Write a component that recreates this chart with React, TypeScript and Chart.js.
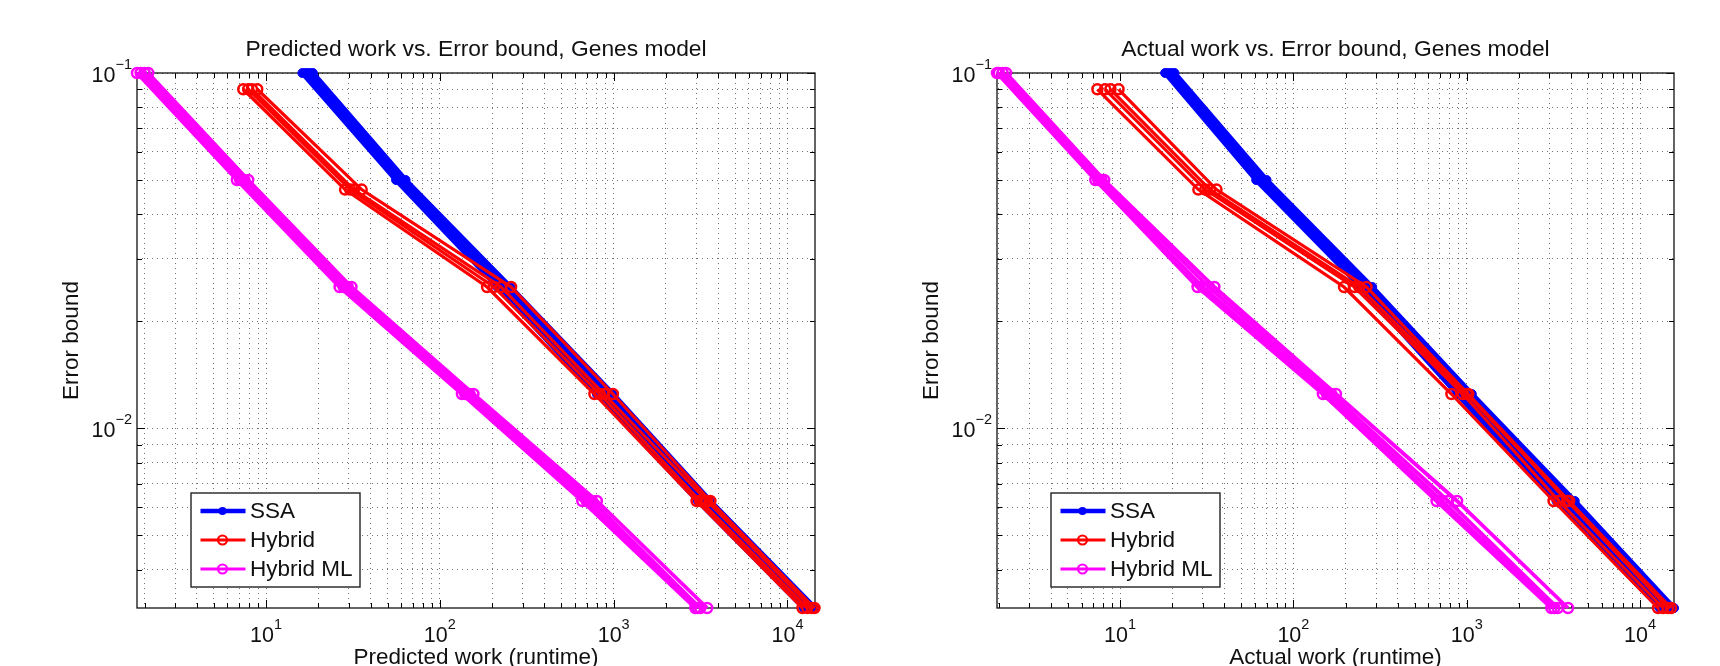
import React, { useEffect, useRef } from 'react';
import { Chart, registerables } from 'chart.js';

Chart.register(...registerables);

// ---------- data ----------
const seriesNames = ['SSA', 'Hybrid', 'Hybrid ML'];

const errorBoundsSSA = [0.1, 0.05, 0.025, 0.0125, 0.00625, 0.003125];
const errorBoundsHybrid = [0.09, 0.047, 0.025, 0.0125, 0.00625, 0.003125];
const errorBoundsHybridML = [0.1, 0.05, 0.025, 0.0125, 0.00625, 0.003125];

// Predicted work (one array per run, one value per error bound)
const predictedSSA = [
  [16.2, 56, 215, 800, 3050, 12400],
  [17.0, 58.5, 228, 860, 3250, 13100],
  [17.8, 61, 240, 920, 3400, 13800],
  [18.6, 63.5, 255, 990, 3600, 14400],
];
const predictedHybrid = [
  [7.4, 28.5, 187, 775, 3000, 12200],
  [7.9, 30.5, 205, 830, 3150, 13000],
  [8.3, 32, 225, 880, 3450, 13800],
  [8.9, 35.5, 257, 990, 3600, 14300],
];
const predictedHybridML = [
  [1.81, 6.8, 26.5, 134, 660, 2950],
  [1.9, 7.1, 28, 140, 700, 3050],
  [2.0, 7.5, 29.5, 148, 750, 3150],
  [2.1, 7.9, 31, 156, 800, 3450],
];

// Actual work
const actualSSA = [
  [18.2, 61, 245, 880, 3300, 13000],
  [19.0, 64, 258, 950, 3600, 14000],
  [19.8, 67, 270, 1010, 3900, 15000],
  [20.6, 70, 285, 1070, 4200, 15700],
];
const actualHybrid = [
  [7.4, 28.3, 196, 816, 3170, 12700],
  [8.2, 31, 225, 950, 3400, 13600],
  [8.8, 33, 240, 1000, 3800, 14500],
  [9.8, 36, 264, 1020, 3900, 15100],
];
const actualHybridML = [
  [1.95, 7.2, 28, 148, 670, 3080],
  [2.0, 7.5, 30, 156, 720, 3200],
  [2.1, 7.8, 32.5, 165, 780, 3350],
  [2.2, 8.1, 35, 176, 880, 3840],
];

const predictedRange = [1.81, 14400];
const actualRange = [1.95, 15700];
const errorRange = [0.003125, 0.1];

const tickMantissas = [1, 2, 3, 4, 5, 6, 7, 8, 9];
const xDecades = [0, 1, 2, 3, 4];
const yDecades = [-3, -2, -1];
const xMajorExponents = [1, 2, 3, 4];
const yMajorExponents = [-1, -2];

// ---------- helpers ----------
const FONT = '"Liberation Sans", Arial, Helvetica, sans-serif';
const COLORS = ['#0000ff', '#ff0000', '#ff00ff'];

function ticksInRange(min: number, max: number, decades: number[]) {
  const out: number[] = [];
  decades.forEach((d) =>
    tickMantissas.forEach((m) => {
      const v = parseFloat((m * Math.pow(10, d)).toPrecision(6));
      if (v >= min * 1.0001 && v <= max * 1.0001) out.push(v);
    })
  );
  return out;
}

function isPow10(v: number) {
  const l = Math.log10(v);
  return Math.abs(l - Math.round(l)) < 1e-6;
}

function makeDecor(title: string, xLabel: string) {
  return {
    id: 'matlabDecor',
    beforeDatasetsDraw(chart: any) {
      const { ctx, chartArea: ca, scales } = chart;
      ctx.save();
      ctx.strokeStyle = '#000';
      ctx.lineWidth = 1;
      ctx.beginPath();
      scales.x.ticks.forEach((t: any) => {
        const px = Math.round(scales.x.getPixelForValue(t.value)) + 0.5;
        const len = isPow10(t.value) ? 8 : 5;
        ctx.moveTo(px, ca.bottom);
        ctx.lineTo(px, ca.bottom - len);
        ctx.moveTo(px, ca.top);
        ctx.lineTo(px, ca.top + len);
      });
      scales.y.ticks.forEach((t: any) => {
        const py = Math.round(scales.y.getPixelForValue(t.value)) + 0.5;
        const len = isPow10(t.value) ? 8 : 5;
        ctx.moveTo(ca.left, py);
        ctx.lineTo(ca.left + len, py);
        ctx.moveTo(ca.right, py);
        ctx.lineTo(ca.right - len, py);
      });
      ctx.stroke();
      ctx.lineWidth = 1.3;
      ctx.strokeStyle = '#111';
      ctx.strokeRect(ca.left, ca.top, ca.right - ca.left, ca.bottom - ca.top);
      ctx.restore();
    },
    afterDraw(chart: any) {
      const { ctx, chartArea: ca, scales } = chart;
      const cx = (ca.left + ca.right) / 2;
      const cy = (ca.top + ca.bottom) / 2;
      ctx.save();
      ctx.fillStyle = '#111';
      // title
      ctx.font = `22.8px ${FONT}`;
      ctx.textAlign = 'center';
      ctx.textBaseline = 'alphabetic';
      ctx.fillText(title, cx, ca.top - 17.5);
      // x label
      ctx.font = `22.5px ${FONT}`;
      ctx.fillText(xLabel, cx, ca.bottom + 56);
      // y label
      ctx.save();
      ctx.translate(ca.left - 59, cy);
      ctx.rotate(-Math.PI / 2);
      ctx.fillText('Error bound', 0, 0);
      ctx.restore();

      // x tick labels
      ctx.textAlign = 'left';
      xMajorExponents.forEach((p) => {
        const px = scales.x.getPixelForValue(Math.pow(10, p));
        ctx.font = `21.5px ${FONT}`;
        const w1 = ctx.measureText('10').width;
        ctx.font = `14.5px ${FONT}`;
        const sup = String(p);
        const w2 = ctx.measureText(sup).width;
        const start = px - (w1 + w2) / 2;
        ctx.font = `21.5px ${FONT}`;
        ctx.fillText('10', start, ca.bottom + 34);
        ctx.font = `14.5px ${FONT}`;
        ctx.fillText(sup, start + w1, ca.bottom + 21);
      });
      // y tick labels
      yMajorExponents.forEach((p) => {
        const py = scales.y.getPixelForValue(Math.pow(10, p));
        const sup = '\u2212' + String(-p);
        ctx.font = `14.5px ${FONT}`;
        const w2 = ctx.measureText(sup).width;
        ctx.textAlign = 'right';
        ctx.fillText(sup, ca.left - 5, py - 4);
        ctx.font = `21.5px ${FONT}`;
        ctx.fillText('10', ca.left - 5 - w2, py + 9);
      });

      // legend
      const bx = ca.left + 54;
      const by = ca.bottom - 115;
      const bw = 169;
      const bh = 94;
      ctx.fillStyle = '#fff';
      ctx.fillRect(bx, by, bw, bh);
      ctx.strokeStyle = '#222';
      ctx.lineWidth = 1.4;
      ctx.strokeRect(bx, by, bw, bh);
      seriesNames.forEach((name, i) => {
        const ry = by + 18 + i * 29;
        const col = COLORS[i];
        ctx.strokeStyle = col;
        ctx.lineWidth = i === 0 ? 4.5 : 3;
        ctx.beginPath();
        ctx.moveTo(bx + 9.5, ry);
        ctx.lineTo(bx + 54.5, ry);
        ctx.stroke();
        ctx.beginPath();
        if (i === 0) {
          ctx.fillStyle = col;
          ctx.arc(bx + 31.5, ry, 4, 0, Math.PI * 2);
          ctx.fill();
        } else {
          ctx.lineWidth = 2.2;
          ctx.arc(bx + 31.5, ry, 4.5, 0, Math.PI * 2);
          ctx.stroke();
        }
        ctx.fillStyle = '#111';
        ctx.font = `22.5px ${FONT}`;
        ctx.textAlign = 'left';
        ctx.textBaseline = 'middle';
        ctx.fillText(name, bx + 59, ry + 1);
        ctx.textBaseline = 'alphabetic';
      });
      ctx.restore();
    },
  };
}

type ChartProps = {
  left: number;
  title: string;
  xLabel: string;
  xRange: number[];
  ssa: number[][];
  hybrid: number[][];
  ml: number[][];
  padRight: number;
};

function WorkChart({ left, title, xLabel, xRange, ssa, hybrid, ml, padRight }: ChartProps) {
  const ref = useRef<HTMLCanvasElement | null>(null);
  useEffect(() => {
    if (!ref.current) return;
    const datasets: any[] = [];
    ssa.forEach((run) =>
      datasets.push({
        label: seriesNames[0],
        data: run.map((x, k) => ({ x, y: errorBoundsSSA[k] })),
        showLine: true,
        borderColor: COLORS[0],
        borderWidth: 5,
        pointRadius: 4.5,
        pointBackgroundColor: COLORS[0],
        pointBorderColor: COLORS[0],
        pointBorderWidth: 1,
        clip: false,
        order: 3,
      })
    );
    hybrid.forEach((run) =>
      datasets.push({
        label: seriesNames[1],
        data: run.map((x, k) => ({ x, y: errorBoundsHybrid[k] })),
        showLine: true,
        borderColor: COLORS[1],
        borderWidth: 3.2,
        pointRadius: 5,
        pointBackgroundColor: 'rgba(0,0,0,0)',
        pointBorderColor: COLORS[1],
        pointBorderWidth: 2.5,
        clip: false,
        order: 2,
      })
    );
    ml.forEach((run) =>
      datasets.push({
        label: seriesNames[2],
        data: run.map((x, k) => ({ x, y: errorBoundsHybridML[k] })),
        showLine: true,
        borderColor: COLORS[2],
        borderWidth: 3.8,
        pointRadius: 5,
        pointBackgroundColor: 'rgba(0,0,0,0)',
        pointBorderColor: COLORS[2],
        pointBorderWidth: 2.5,
        clip: false,
        order: 1,
      })
    );
    const xTicks = ticksInRange(xRange[0], xRange[1], xDecades);
    const yTicks = ticksInRange(errorRange[0], errorRange[1], yDecades);
    const gridOpts = { color: 'rgba(0,0,0,0.55)', lineWidth: 1, drawTicks: false };
    const chart = new Chart(ref.current, {
      type: 'scatter',
      data: { datasets },
      options: {
        animation: false,
        responsive: false,
        devicePixelRatio: 1,
        events: [],
        layout: { padding: { top: 73, right: padRight, left: 0, bottom: 0 } },
        plugins: { legend: { display: false }, tooltip: { enabled: false }, title: { display: false } },
        elements: { line: { tension: 0 } },
        scales: {
          x: {
            type: 'logarithmic',
            min: xRange[0],
            max: xRange[1],
            ticks: { display: false, autoSkip: false },
            grid: gridOpts,
            border: { display: false, dash: [1, 4] },
            afterBuildTicks: (s: any) => {
              s.ticks = xTicks.map((v) => ({ value: v, major: isPow10(v) }));
            },
            afterFit: (s: any) => {
              s.height = 58;
            },
          },
          y: {
            type: 'logarithmic',
            min: errorRange[0],
            max: errorRange[1],
            ticks: { display: false, autoSkip: false },
            grid: gridOpts,
            border: { display: false, dash: [1, 4] },
            afterBuildTicks: (s: any) => {
              s.ticks = yTicks.map((v) => ({ value: v, major: isPow10(v) }));
            },
            afterFit: (s: any) => {
              s.width = 137;
            },
          },
        },
      } as any,
      plugins: [makeDecor(title, xLabel)],
    });
    return () => chart.destroy();
  }, []);
  return (
    <canvas
      ref={ref}
      width={860}
      height={666}
      style={{ position: 'absolute', left, top: 0, width: 860, height: 666, display: 'block' }}
    />
  );
}

export default function App() {
  return (
    <div style={{ position: 'absolute', left: 0, top: 0, width: 1720, height: 666, background: '#fff', overflow: 'hidden' }}>
      <WorkChart
        left={0}
        title="Predicted work vs. Error bound, Genes model"
        xLabel="Predicted work (runtime)"
        xRange={predictedRange}
        ssa={predictedSSA}
        hybrid={predictedHybrid}
        ml={predictedHybridML}
        padRight={45}
      />
      <WorkChart
        left={860}
        title="Actual work vs. Error bound, Genes model"
        xLabel="Actual work (runtime)"
        xRange={actualRange}
        ssa={actualSSA}
        hybrid={actualHybrid}
        ml={actualHybridML}
        padRight={46}
      />
    </div>
  );
}
